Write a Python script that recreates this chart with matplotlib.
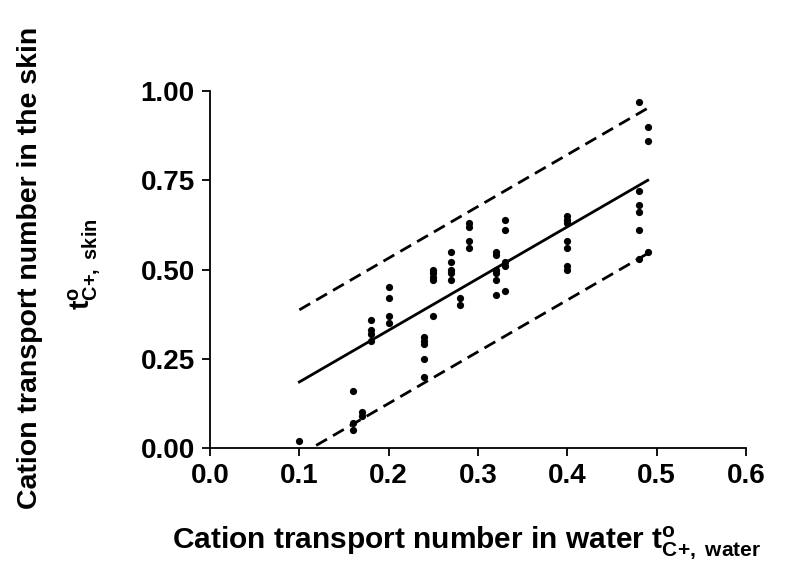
# Cation transport number, skin vs water.
import matplotlib
matplotlib.use('Agg')
import matplotlib.pyplot as plt

# Font settings (Arial-like bold).
plt.rcParams['font.family'] = ['Liberation Sans', 'DejaVu Sans']
plt.rcParams['font.weight'] = 'bold'
plt.rcParams['mathtext.fontset'] = 'custom'
plt.rcParams['mathtext.rm'] = 'Liberation Sans:bold'
plt.rcParams['mathtext.it'] = 'Liberation Sans:bold'
plt.rcParams['mathtext.bf'] = 'Liberation Sans:bold'

t_water = [0.10,
	0.16, 0.16, 0.16,
	0.17, 0.17,
	0.18, 0.18, 0.18, 0.18,
	0.20, 0.20, 0.20, 0.20,
	0.24, 0.24, 0.24, 0.24, 0.24,
	0.25, 0.25, 0.25, 0.25, 0.25,
	0.27, 0.27, 0.27, 0.27, 0.27,
	0.28, 0.28,
	0.29, 0.29, 0.29, 0.29,
	0.32, 0.32, 0.32, 0.32, 0.32, 0.32,
	0.33, 0.33, 0.33, 0.33, 0.33,
	0.40, 0.40, 0.40, 0.40, 0.40, 0.40, 0.40,
	0.48, 0.48, 0.48, 0.48, 0.48, 0.48,
	0.49, 0.49, 0.49]
t_skin = [0.02,
	0.16, 0.07, 0.05,
	0.10, 0.09,
	0.36, 0.33, 0.32, 0.30,
	0.45, 0.42, 0.37, 0.35,
	0.31, 0.30, 0.29, 0.25, 0.20,
	0.50, 0.49, 0.48, 0.47, 0.37,
	0.55, 0.52, 0.50, 0.49, 0.47,
	0.42, 0.40,
	0.63, 0.62, 0.58, 0.56,
	0.55, 0.54, 0.50, 0.49, 0.47, 0.43,
	0.64, 0.61, 0.52, 0.51, 0.44,
	0.65, 0.64, 0.63, 0.58, 0.56, 0.51, 0.50,
	0.97, 0.72, 0.68, 0.66, 0.61, 0.53,
	0.90, 0.86, 0.55]

# Regression line and prediction band end points.
line_x = [0.10, 0.49]
fit_y = [0.185, 0.750]
upper_y = [0.387, 0.952]
lower_y = [-0.020, 0.545]

x_ticks = [0.0, 0.1, 0.2, 0.3, 0.4, 0.5, 0.6]
y_ticks = [0.00, 0.25, 0.50, 0.75, 1.00]

fig = plt.figure(figsize = (8, 5.82), dpi = 100)
ax = fig.add_axes([0.2625, 0.2302, 0.67, 0.6134])

ax.scatter(x = t_water,
	y = t_skin,
	s = 27,
	color = 'black',
	linewidths = 0,
	zorder = 3,
	clip_on = False)

ax.plot(line_x, fit_y, color = 'black', linewidth = 2.0)
ax.plot(line_x, upper_y, color = 'black', linewidth = 2.0, dashes = (4.5, 2.5))
ax.plot(line_x, lower_y, color = 'black', linewidth = 2.0, dashes = (4.5, 2.5))

ax.set_xlim(0, 0.6)
ax.set_ylim(0, 1.0)
ax.set_xticks(x_ticks)
ax.set_yticks(y_ticks)
ax.set_xticklabels(['%.1f' % v for v in x_ticks])
ax.set_yticklabels(['%.2f' % v for v in y_ticks])

ax.spines['top'].set_visible(False)
ax.spines['right'].set_visible(False)
ax.spines['left'].set_linewidth(1.3)
ax.spines['bottom'].set_linewidth(1.3)
ax.tick_params(direction = 'out', length = 6, width = 1.3, labelsize = 20, pad = 5)

# Axis titles.
fig.text(x = 467 / 800,
	y = 1 - 543 / 582,
	s = r'Cation transport number in water t$^{\mathrm{o}}_{\mathrm{C{+},\ water}}$',
	fontsize = 21.5,
	fontweight = 'bold',
	ha = 'center',
	va = 'center')

fig.text(x = 30 / 800,
	y = 1 - 268 / 582,
	s = 'Cation transport number in the skin',
	fontsize = 20.5,
	fontweight = 'bold',
	rotation = 90,
	ha = 'center',
	va = 'center')

fig.text(x = 84 / 800,
	y = 1 - 264 / 582,
	s = r't$^{\mathrm{o}}_{\mathrm{C{+},\ skin}}$',
	fontsize = 20.5,
	fontweight = 'bold',
	rotation = 90,
	ha = 'center',
	va = 'center')

fig.savefig('out.png', dpi = 100)
